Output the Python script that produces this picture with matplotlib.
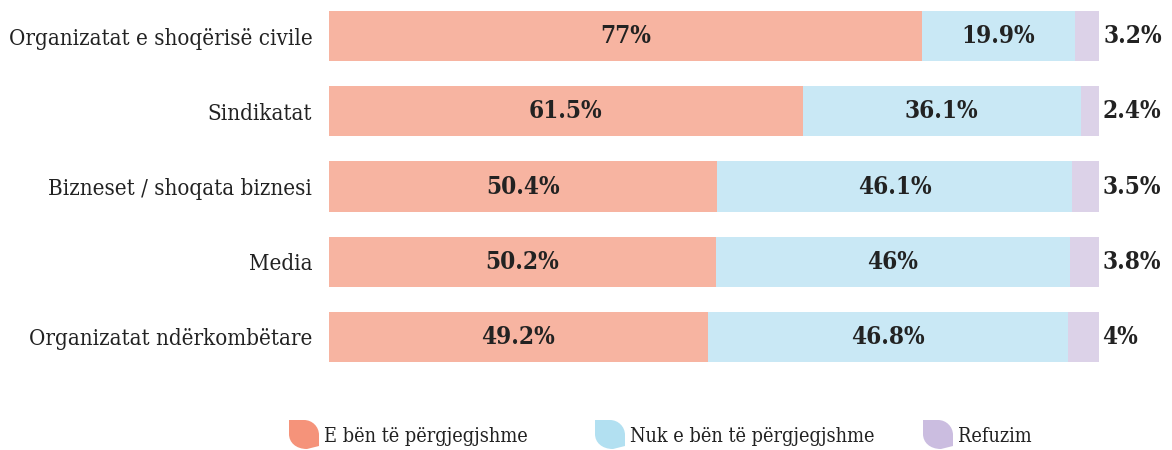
import matplotlib
matplotlib.use("Agg")
import matplotlib.pyplot as plt
from matplotlib.patches import PathPatch
from matplotlib.path import Path

categories = ["Organizatat e shoqërisë civile", "Sindikatat", "Bizneset / shoqata biznesi",
              "Media", "Organizatat ndërkombëtare"]
series_names = ["E bën të përgjegjshme", "Nuk e bën të përgjegjshme", "Refuzim"]
makes_accountable = [77, 61.5, 50.4, 50.2, 49.2]
not_accountable = [19.9, 36.1, 46.1, 46, 46.8]
refused = [3.2, 2.4, 3.5, 3.8, 4]
labels_a = ["77%", "61.5%", "50.4%", "50.2%", "49.2%"]
labels_b = ["19.9%", "36.1%", "46.1%", "46%", "46.8%"]
labels_c = ["3.2%", "2.4%", "3.5%", "3.8%", "4%"]

bar_colors = ["#f7b4a1", "#c9e8f5", "#dcd2e8"]
legend_colors = ["#f5937a", "#b2e0f1", "#cbbde0"]
text_color = "#222222"
serif = ["DejaVu Serif"]
stretch = "condensed"

W, H = 1172, 450
fig = plt.figure(figsize=(W / 100, H / 100), dpi=100)
ax = fig.add_axes([329 / W, 1 - 374.6 / H, 770 / W, 376.2 / H])

ys = list(range(len(categories)))
h = 0.665
ax.barh(ys, makes_accountable, height=h, color=bar_colors[0], linewidth=0)
ax.barh(ys, not_accountable, left=makes_accountable, height=h, color=bar_colors[1], linewidth=0)
lefts_c = [a + b for a, b in zip(makes_accountable, not_accountable)]
ax.barh(ys, refused, left=lefts_c, height=h, color=bar_colors[2], linewidth=0)

vkw = dict(va="center", fontsize=17.5, fontweight="heavy", color=text_color,
           family=serif, fontstretch=stretch)
for i in ys:
    ax.text(makes_accountable[i] / 2, i, labels_a[i], ha="center", **vkw)
    ax.text(makes_accountable[i] + not_accountable[i] / 2, i, labels_b[i], ha="center", **vkw)
    ax.text(lefts_c[i] + refused[i] + 0.45, i, labels_c[i], ha="left", **vkw)

ax.set_xlim(0, 100)
ax.set_ylim(len(categories) - 0.5, -0.5)
ax.set_yticks(ys)
ax.set_yticklabels(categories, fontsize=16, color=text_color, family=serif, fontstretch=stretch)
ax.tick_params(axis="y", length=0, pad=12)
ax.set_xticks([])
for s in ax.spines.values():
    s.set_visible(False)

K = 0.5523

def leaf(x0, top, w, h):
    # leaf marker: square top-left & bottom-right, rounded top-right & bottom-left
    r = w / 2
    x1, bot = x0 + w, top + h
    pts = [(x0, top), (x1 - r, top),
           (x1 - r + K * r, top), (x1, top + r - K * r), (x1, top + r),
           (x1, bot - 3), (x0 + r + 3, bot),
           (x0 + r - K * r, bot), (x0, bot - r + K * r), (x0, bot - r),
           (x0, top), (x0, top)]
    codes = [Path.MOVETO, Path.LINETO,
             Path.CURVE4, Path.CURVE4, Path.CURVE4,
             Path.LINETO, Path.LINETO,
             Path.CURVE4, Path.CURVE4, Path.CURVE4,
             Path.LINETO, Path.CLOSEPOLY]
    return Path([(px / W, 1 - py / H) for px, py in pts], codes)

legend_x = [289, 595, 923]
for x, name, col in zip(legend_x, series_names, legend_colors):
    fig.add_artist(PathPatch(leaf(x, 420, 30, 29), transform=fig.transFigure,
                             facecolor=col, edgecolor="none"))
    fig.text((x + 35) / W, 1 - 436 / H, name, ha="left", va="center", fontsize=14.2,
             color=text_color, family=serif, fontstretch=stretch)

fig.savefig("out.png", dpi=100, facecolor="white")
